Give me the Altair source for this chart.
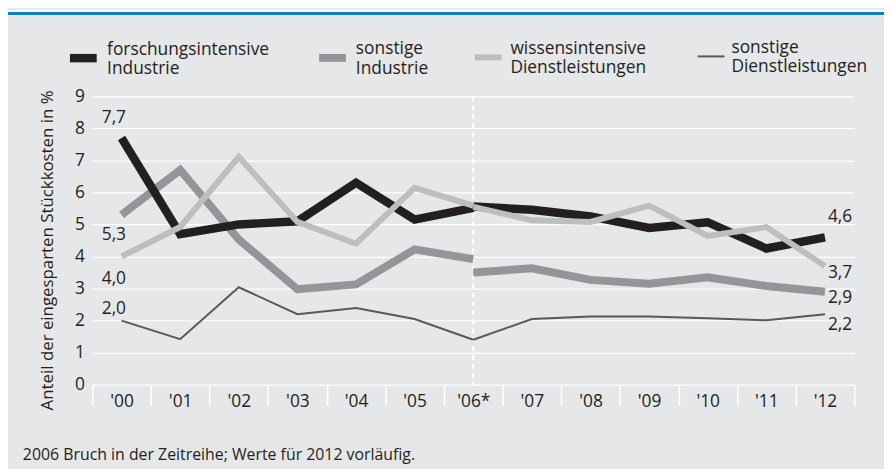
import altair as alt
import pandas as pd

years = ["'00", "'01", "'02", "'03", "'04", "'05", "'06*",
         "'07", "'08", "'09", "'10", "'11", "'12"]
series = ["forschungsintensive Industrie", "sonstige Industrie",
          "wissensintensive Dienstleistungen", "sonstige Dienstleistungen"]

# values '00..'06 (old survey) and '06..'12 (new survey, break in 2006)
fi_a = [7.7, 4.7, 5.0, 5.1, 6.3, 5.15, 5.52]
fi_b = [5.56, 5.46, 5.25, 4.89, 5.07, 4.25, 4.6]
si_a = [5.3, 6.7, 4.53, 2.98, 3.13, 4.22, 3.92]
si_b = [3.5, 3.63, 3.27, 3.15, 3.35, 3.08, 2.9]
wd_a = [4.0, 4.92, 7.11, 5.08, 4.4, 6.14, 5.59]
wd_b = [5.55, 5.13, 5.08, 5.59, 4.64, 4.92, 3.7]
sd_a = [2.0, 1.42, 3.04, 2.2, 2.39, 2.05, 1.4]
sd_b = [1.4, 2.05, 2.13, 2.13, 2.07, 2.01, 2.2]

label_series = [series[0], series[1], series[2], series[3],
                series[0], series[2], series[1], series[3]]
label_year = ["'00"] * 4 + ["'12"] * 4
label_value = [7.7, 5.3, 4.0, 2.0, 4.6, 3.7, 2.9, 2.2]

note = "2006 Bruch in der Zeitreihe; Werte für 2012 vorläufig."
y_title = "Anteil der eingesparten Stückkosten in %"

# ---- styles ----
colors = ["#231f20", "#939598", "#bcbec0", "#58595b"]
widths = [8.5, 8, 6, 2]
label_offsets = [(-20, -20), (-20, 20), (-20, 23), (-20, -12),
                 (3, -20), (3, 7), (3, 6), (3, 11)]
draw_order = [1, 0, 2, 3]
TXT = "#231f20"
BG = "#e6e7e8"
FS = 17.5
PAD = "\u2800"  # blank glyph: extra room after the third legend entry

rows = []
for s, a, b in zip(series, [fi_a, si_a, wd_a, sd_a], [fi_b, si_b, wd_b, sd_b]):
    for y, v in zip(years[:7], a):
        rows.append({"series": s, "seg": "a", "year": y, "value": v})
    for y, v in zip(years[6:], b):
        rows.append({"series": s, "seg": "b", "year": y, "value": v})
df = pd.DataFrame(rows)

lab = pd.DataFrame({"series": label_series, "year": label_year, "value": label_value})
lab["text"] = lab["value"].map(lambda v: f"{v:.1f}".replace(".", ","))

X = alt.X("year:N", sort=years,
          scale=alt.Scale(type="band", domain=years, paddingInner=0, paddingOuter=0),
          axis=alt.Axis(title=None, labelAngle=0, domain=False, grid=False,
                        ticks=True, tickBand="extent", tickColor="white",
                        tickSize=21, tickWidth=1.5, labelPadding=-13,
                        labelFontSize=FS, labelColor=TXT, labelBaseline="top"))
Y = alt.Y("value:Q", scale=alt.Scale(domain=[0, 9], nice=False),
          axis=alt.Axis(title=y_title, values=list(range(10)), grid=True,
                        gridColor="white", gridWidth=1.2, domain=False, ticks=False,
                        labelPadding=8, labelFontSize=FS, labelColor=TXT,
                        titleFontSize=17, titleFontWeight="normal", titleColor=TXT,
                        titlePadding=18, titleY=155))

legend_labels = ("datum.label == 'wissensintensive Dienstleistungen' ? "
                 "['wissensintensive', 'Dienstleistungen" + PAD + "'] : split(datum.label, ' ')")
legend = alt.Legend(title=None, orient="none", legendX=-27, legendY=-65,
                    direction="horizontal", symbolType="M-1,0.63H1", symbolSize=729,
                    labelExpr=legend_labels, labelFontSize=FS,
                    labelColor=TXT, labelOffset=6, labelLimit=400,
                    columnPadding=34, padding=0)
C = alt.Color("series:N", scale=alt.Scale(domain=series, range=colors), legend=legend)
W = alt.StrokeWidth("series:N", scale=alt.Scale(type="ordinal", domain=series, range=widths),
                    legend=legend)

one = pd.DataFrame({"k": [0]})
white_top = alt.Chart(one).mark_rule(color="white", strokeWidth=2).encode(
    x=alt.value(-85), x2=alt.value(799), y=alt.value(-86))
blue_top = alt.Chart(one).mark_rule(color="#0a7fc2", strokeWidth=3).encode(
    x=alt.value(-85), x2=alt.value(799), y=alt.value(-83.5))

brk = alt.Chart(pd.DataFrame({"year": ["'06*"]})).mark_rule(
    color="white", strokeDash=[5, 4], strokeWidth=2).encode(x=X)

lines = []
for i in draw_order:
    lines.append(
        alt.Chart(df).transform_filter(alt.datum.series == series[i])
        .mark_line(strokeJoin="miter", strokeCap="butt")
        .encode(x=X, y=Y, color=C, strokeWidth=W, detail="seg:N")
    )

labels = []
for i, (dx, dy) in enumerate(label_offsets):
    labels.append(
        alt.Chart(lab.iloc[[i]]).mark_text(align="left", baseline="middle",
                                           dx=dx, dy=dy, fontSize=FS, color=TXT)
        .encode(x=X, y=Y, text="text:N")
    )

note_layer = alt.Chart(pd.DataFrame({"note": [note]})).mark_text(
    align="left", baseline="middle", fontSize=16, color=TXT).encode(
    x=alt.value(-70), y=alt.value(362), text="note:N")

chart = alt.layer(white_top, blue_top, brk, *lines, *labels, note_layer).properties(
    width=769, height=291,
    autosize=alt.AutoSizeParams(type="none"),
    padding={"left": 85, "top": 87, "right": 30, "bottom": 83},
    background=BG,
).configure(font="Open Sans").configure_view(stroke=None)

chart.save("out.html", embed_options={"renderer": "svg", "actions": False})
